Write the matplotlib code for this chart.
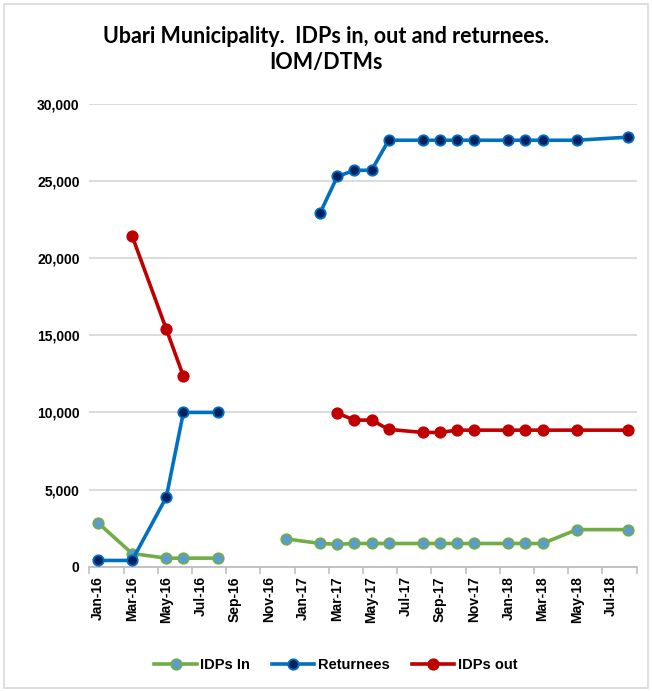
import matplotlib
matplotlib.use("Agg")
import matplotlib.pyplot as plt
import numpy as np
from matplotlib.patches import Rectangle
from matplotlib.ticker import FuncFormatter

nan = np.nan

# survey rounds (year, month); the Oct-16 row is empty -> gap in the lines
rounds = [(2016, 1), (2016, 3), (2016, 5), (2016, 6), (2016, 8), (2016, 10),
          (2016, 12), (2017, 2), (2017, 3), (2017, 4), (2017, 5), (2017, 6),
          (2017, 8), (2017, 9), (2017, 10), (2017, 11), (2018, 1), (2018, 2),
          (2018, 3), (2018, 5), (2018, 8)]

idps_in = [2850, 850, 550, 550, 550, nan,
           1800, 1500, 1450, 1500, 1500, 1500,
           1500, 1500, 1500, 1500, 1500, 1500,
           1500, 2400, 2400]
returnees = [400, 400, 4500, 10000, 10000, nan,
             nan, 22950, 25300, 25700, 25700, 27650,
             27650, 27650, 27650, 27650, 27650, 27650,
             27650, 27650, 27850]
idps_out = [nan, 21450, 15400, 12350, nan, nan,
            nan, nan, 9950, 9500, 9500, 8900,
            8700, 8700, 8850, 8850, 8850, 8850,
            8850, 8850, 8850]

month_names = ["Jan", "Feb", "Mar", "Apr", "May", "Jun",
               "Jul", "Aug", "Sep", "Oct", "Nov", "Dec"]
n_months = 32  # Jan-16 .. Aug-18

x = np.array([(y - 2016) * 12 + (m - 1) for y, m in rounds])

fig = plt.figure(figsize=(6.52, 6.91), dpi=100)
ax = fig.add_axes([0.137, 0.18, 0.8395, 0.6695])

ax.plot(x, idps_in, color="#70AD47", lw=2.6, marker="o", ms=7.5,
        mfc="#5B9BD5", mec="#70AD47", mew=1.3, label="IDPs In", zorder=3)
ax.plot(x, returnees, color="#0070C0", lw=2.6, marker="o", ms=7.5,
        mfc="#002060", mec="#0070C0", mew=1.3, label="Returnees", zorder=3)
ax.plot(x, idps_out, color="#C00000", lw=2.6, marker="o", ms=7.5,
        mfc="#C00000", mec="#C00000", mew=1.3, label="IDPs out", zorder=3)

ax.set_xlim(-0.5, n_months - 0.5)
ax.set_ylim(0, 30000)
ax.set_yticks(np.arange(0, 30001, 5000))
ax.yaxis.set_major_formatter(FuncFormatter(lambda v, p: f"{int(v):,}"))
ax.grid(axis="y", color="#D9D9D9", lw=1.3)
ax.set_axisbelow(True)

label_pos = np.arange(0, n_months, 2)
ax.set_xticks(label_pos)
ax.set_xticklabels([f"{month_names[i % 12]}-{16 + i // 12}" for i in label_pos],
                   rotation=90)
ax.set_xticks(np.arange(-0.5, n_months, 2), minor=True)
ax.tick_params(axis="x", which="major", length=0, pad=7)
ax.tick_params(axis="x", which="minor", length=5, color="#BFBFBF", width=1.2)
ax.tick_params(axis="y", length=0, pad=7)

for lab in ax.get_xticklabels() + ax.get_yticklabels():
    lab.set_fontsize(10)
    lab.set_fontweight("bold")
    lab.set_fontfamily("Liberation Sans")

for s in ["top", "right", "left"]:
    ax.spines[s].set_visible(False)
ax.spines["bottom"].set_color("#BFBFBF")
ax.spines["bottom"].set_linewidth(1.3)

fig.text(0.5, 0.928, "Ubari Municipality.  IDPs in, out and returnees.\nIOM/DTMs",
         ha="center", va="center", fontsize=15.5, fontweight="bold",
         family="Lato", linespacing=1.3)

fig.legend(loc="center", bbox_to_anchor=(0.515, 0.037), ncol=3, frameon=False,
           prop={"family": "Liberation Sans", "weight": "bold", "size": 10.5},
           handlelength=2.9, columnspacing=1.5, handletextpad=0.25)

fig.patches.append(Rectangle((0.006, 0.004), 0.988, 0.99, transform=fig.transFigure,
                             fill=False, edgecolor="#D9D9D9", lw=1.2))

fig.savefig("out.png", dpi=100)
